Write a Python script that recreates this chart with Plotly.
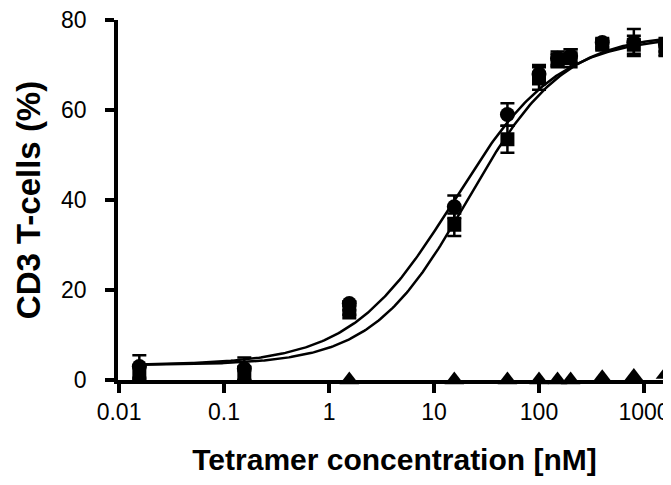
import numpy as np
import plotly.graph_objects as go

conc = [0.0156, 0.156, 1.56, 15.6, 50, 100, 150, 200, 400, 800, 1600]
circle = [3.0, 2.5, 17.0, 38.5, 59.0, 68.0, 71.5, 72.0, 75.0, 75.0, 74.5]
circle_err = [2.5, 2.5, 0.5, 2.5, 2.5, 2.0, 1.5, 1.5, 1.0, 3.0, 1.5]
square = [1.5, 1.5, 15.0, 34.5, 53.5, 67.0, 71.0, 71.5, 74.5, 74.5, 73.5]
square_err = [1.5, 1.5, 0.5, 2.5, 3.0, 2.5, 1.5, 2.0, 1.0, 2.0, 1.5]
tri_conc = [1.56, 15.6, 50, 100, 150, 200, 400, 800, 1600]
triangle = [0.0, 0.0, 0.0, 0.0, 0.0, 0.0, 0.5, 0.8, 1.2]

# fitted 4-parameter logistic curves (bottom, top, EC50, hill)
fit_circle = (3.3, 76.5, 15.5, 0.88)
fit_square = (3.3, 77.0, 21.0, 0.95)

tick_vals = [0.01, 0.1, 1, 10, 100, 1000]
tick_text = ["0.01", "0.1", "1", "10", "100", "1000"]

xs = np.logspace(np.log10(0.0156), np.log10(1600), 300)

def logistic(x, p):
    b, t, ec, h = p
    return b + (t - b) / (1.0 + (ec / x) ** h)

fig = go.Figure()
for p in (fit_circle, fit_square):
    fig.add_trace(go.Scatter(x=xs, y=logistic(xs, p), mode="lines",
                             line=dict(color="black", width=2.5),
                             hoverinfo="skip", cliponaxis=False))

fig.add_trace(go.Scatter(x=tri_conc, y=triangle, mode="markers",
                         marker=dict(symbol="triangle-up", size=17, color="black"),
                         cliponaxis=False))
fig.add_trace(go.Scatter(x=conc, y=square, mode="markers",
                         marker=dict(symbol="square", size=14, color="black"),
                         error_y=dict(type="data", array=square_err, color="black",
                                      thickness=2.5, width=7),
                         cliponaxis=False))
fig.add_trace(go.Scatter(x=conc, y=circle, mode="markers",
                         marker=dict(symbol="circle", size=15, color="black"),
                         error_y=dict(type="data", array=circle_err, color="black",
                                      thickness=2.5, width=7),
                         cliponaxis=False))

# page body has an 8px default margin, so the figure is 8px smaller
fig.update_layout(
    width=663, height=477,
    margin=dict(l=110, r=0, t=12, b=105),
    paper_bgcolor="white", plot_bgcolor="white",
    showlegend=False,
    font=dict(family="Liberation Sans, Arial, sans-serif", color="black"),
)
fig.update_xaxes(type="log", range=[-2.01, 3.257],
                 tickvals=tick_vals, ticktext=tick_text,
                 showline=True, linecolor="black", linewidth=3.5,
                 ticks="outside", ticklen=9, tickwidth=3.5, tickcolor="black",
                 showgrid=False, zeroline=False, automargin=False,
                 tickfont=dict(size=23), ticklabelstandoff=0,
                 ticklabeloverflow="allow",
                 title=dict(text="<b>Tetramer concentration [nM]</b>",
                            font=dict(size=30), standoff=26))
fig.update_yaxes(range=[0, 80], tickvals=[0, 20, 40, 60, 80],
                 showline=True, linecolor="black", linewidth=3.5,
                 ticks="outside", ticklen=9, tickwidth=3.5, tickcolor="black",
                 showgrid=False, zeroline=False, automargin=False,
                 tickfont=dict(size=23), ticklabelstandoff=14,
                 ticklabeloverflow="allow",
                 title=dict(text="<b>CD3 T-cells (%)</b>",
                            font=dict(size=33), standoff=12))

fig.write_html("out.html")
